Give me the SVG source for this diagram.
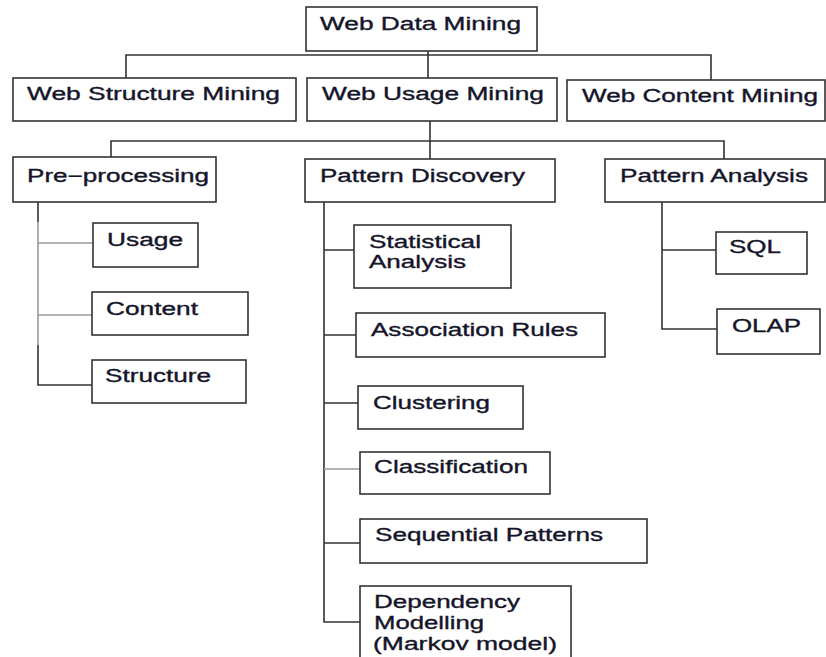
<svg xmlns="http://www.w3.org/2000/svg" width="826" height="657" viewBox="0 0 826 657">
  <style>
    .box { fill: #ffffff; stroke: #333333; stroke-width: 1.6; }
    .lbl { font-family: "Liberation Sans", Arial, sans-serif; font-size: 18px; fill: #15152a; stroke: #15152a; stroke-width: 0.35; }
    .wire { fill: none; stroke: #333333; stroke-width: 1.6; }
    .wire-lt { fill: none; stroke: #9a9a9a; stroke-width: 1.6; }
  </style>
  <rect width="826" height="657" fill="#ffffff"/>

  <!-- connectors -->
  <g id="connectors">
    <!-- root to first level -->
    <path class="wire" d="M428 51 V78 M126 78 V55 H711 V80"/>
    <!-- usage mining to phases -->
    <path class="wire" d="M430 121 V159 M111 157 V141 H724 V159"/>
    <!-- pre-processing branch -->
    <path class="wire" d="M38 202 V222 M38 345 V385 H92"/>
    <path class="wire-lt" d="M38 222 V345 M38 243 H93 M38 315 H92"/>
    <!-- pattern discovery branch -->
    <path class="wire" d="M324 202 V622 H360 M324 250 H354 M324 335 H356 M324 403 H358 M324 543 H360"/>
    <path class="wire-lt" d="M324 469 H360"/>
    <!-- pattern analysis branch -->
    <path class="wire" d="M662 202 V329 H717 M662 250 H716"/>
  </g>

  <g id="web-data-mining">
    <rect class="box" x="306" y="7" width="231" height="44"/>
    <text class="lbl" x="320" y="30" textLength="201" lengthAdjust="spacingAndGlyphs">Web Data Mining</text>
  </g>

  <g id="web-structure-mining">
    <rect class="box" x="13" y="78" width="283" height="43"/>
    <text class="lbl" x="27" y="100" textLength="253" lengthAdjust="spacingAndGlyphs">Web Structure Mining</text>
  </g>

  <g id="web-usage-mining">
    <rect class="box" x="307" y="78" width="250" height="43"/>
    <text class="lbl" x="322" y="100" textLength="222" lengthAdjust="spacingAndGlyphs">Web Usage Mining</text>
  </g>

  <g id="web-content-mining">
    <rect class="box" x="567" y="80" width="258" height="41"/>
    <text class="lbl" x="582" y="102" textLength="236" lengthAdjust="spacingAndGlyphs">Web Content Mining</text>
  </g>

  <g id="pre-processing">
    <rect class="box" x="13" y="157" width="203" height="45"/>
    <text class="lbl" x="27" y="182" textLength="182" lengthAdjust="spacingAndGlyphs">Pre−processing</text>
  </g>

  <g id="pattern-discovery">
    <rect class="box" x="305" y="159" width="250" height="43"/>
    <text class="lbl" x="320" y="182" textLength="205" lengthAdjust="spacingAndGlyphs">Pattern Discovery</text>
  </g>

  <g id="pattern-analysis">
    <rect class="box" x="605" y="159" width="220" height="43"/>
    <text class="lbl" x="620" y="182" textLength="188" lengthAdjust="spacingAndGlyphs">Pattern Analysis</text>
  </g>

  <g id="usage">
    <rect class="box" x="93" y="223" width="105" height="44"/>
    <text class="lbl" x="107" y="246" textLength="76" lengthAdjust="spacingAndGlyphs">Usage</text>
  </g>

  <g id="content">
    <rect class="box" x="92" y="292" width="156" height="43"/>
    <text class="lbl" x="106" y="315" textLength="92" lengthAdjust="spacingAndGlyphs">Content</text>
  </g>

  <g id="structure">
    <rect class="box" x="92" y="360" width="154" height="43"/>
    <text class="lbl" x="105" y="382" textLength="106" lengthAdjust="spacingAndGlyphs">Structure</text>
  </g>

  <g id="statistical-analysis">
    <rect class="box" x="354" y="225" width="157" height="63"/>
    <text class="lbl" x="369" y="248" textLength="112" lengthAdjust="spacingAndGlyphs">Statistical</text>
    <text class="lbl" x="369" y="268" textLength="97" lengthAdjust="spacingAndGlyphs">Analysis</text>
  </g>

  <g id="association-rules">
    <rect class="box" x="356" y="313" width="249" height="44"/>
    <text class="lbl" x="371" y="336" textLength="207" lengthAdjust="spacingAndGlyphs">Association Rules</text>
  </g>

  <g id="clustering">
    <rect class="box" x="358" y="386" width="165" height="43"/>
    <text class="lbl" x="373" y="409" textLength="117" lengthAdjust="spacingAndGlyphs">Clustering</text>
  </g>

  <g id="classification">
    <rect class="box" x="360" y="452" width="190" height="42"/>
    <text class="lbl" x="374" y="473" textLength="154" lengthAdjust="spacingAndGlyphs">Classification</text>
  </g>

  <g id="sequential-patterns">
    <rect class="box" x="360" y="519" width="287" height="44"/>
    <text class="lbl" x="375" y="541" textLength="228" lengthAdjust="spacingAndGlyphs">Sequential Patterns</text>
  </g>

  <g id="dependency-modelling">
    <rect class="box" x="360" y="586" width="211" height="80"/>
    <text class="lbl" x="374" y="608" textLength="146" lengthAdjust="spacingAndGlyphs">Dependency</text>
    <text class="lbl" x="374" y="629" textLength="110" lengthAdjust="spacingAndGlyphs">Modelling</text>
    <text class="lbl" x="373" y="650" textLength="184" lengthAdjust="spacingAndGlyphs">(Markov model)</text>
  </g>

  <g id="sql">
    <rect class="box" x="716" y="232" width="91" height="42"/>
    <text class="lbl" x="729" y="253" textLength="52" lengthAdjust="spacingAndGlyphs">SQL</text>
  </g>

  <g id="olap">
    <rect class="box" x="717" y="309" width="103" height="45"/>
    <text class="lbl" x="732" y="332" textLength="69" lengthAdjust="spacingAndGlyphs">OLAP</text>
  </g>
</svg>
